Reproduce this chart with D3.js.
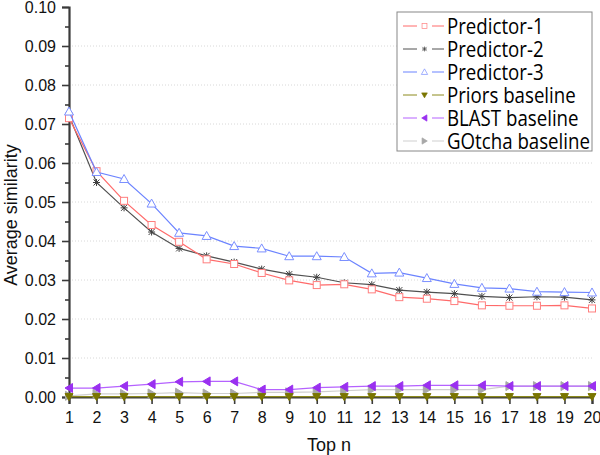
<!DOCTYPE html>
<html>
<head>
<meta charset="UTF-8">
<title>Average similarity by top n</title>
<style>
  body { margin: 0; padding: 0; background: #fff; }
  svg { display: block; }
</style>
</head>
<body>
<svg width="600" height="455"></svg>
<script src="https://d3js.org/d3.v7.min.js"></script>
<script>
    // values
    var topN = d3.range(1, 21);
    var predictor1 = [0.0715, 0.0579, 0.0503, 0.0441, 0.0398, 0.0353, 0.0341, 0.0318, 0.0299, 0.0287,
                      0.0289, 0.0276, 0.0256, 0.0252, 0.0246, 0.0235, 0.0234, 0.0234, 0.0235, 0.0227];
    var predictor2 = [0.0722, 0.0550, 0.0485, 0.0423, 0.0381, 0.0362, 0.0346, 0.0328, 0.0315, 0.0307,
                      0.0293, 0.0288, 0.0274, 0.0269, 0.0265, 0.0258, 0.0255, 0.0257, 0.0256, 0.0249];
    var predictor3 = [0.0732, 0.0577, 0.0559, 0.0496, 0.0421, 0.0413, 0.0387, 0.0381, 0.0361, 0.0361,
                      0.0359, 0.0317, 0.0319, 0.0305, 0.0290, 0.0280, 0.0278, 0.0270, 0.0269, 0.0268];
    var priors     = [0.0001, 0.0001, 0.0001, 0.0001, 0.0001, 0.0001, 0.0001, 0.0001, 0.0001, 0.0001,
                      0.0001, 0.0001, 0.0001, 0.0001, 0.0001, 0.0001, 0.0001, 0.0001, 0.0001, 0.0001];
    var blast      = [0.0023, 0.0023, 0.0028, 0.0033, 0.0039, 0.0040, 0.0040, 0.0019, 0.0019, 0.0024,
                      0.0026, 0.0028, 0.0028, 0.0030, 0.0030, 0.0030, 0.0028, 0.0028, 0.0028, 0.0028];
    var gotcha     = [0.0003, 0.0008, 0.0008, 0.0009, 0.0011, 0.0009, 0.0009, 0.0012, 0.0012, 0.0013,
                      0.0016, 0.0019, 0.0019, 0.0019, 0.0019, 0.0019, 0.0028, 0.0028, 0.0028, 0.0028];
    var yTicks = [0, 0.01, 0.02, 0.03, 0.04, 0.05, 0.06, 0.07, 0.08, 0.09, 0.10];

    var series = [
        {name: "Predictor-1",     values: predictor1, line: "#ff6a6a", mark: "#ff7f7f", shape: "square", fill: "none"},
        {name: "Predictor-2",     values: predictor2, line: "#505050", mark: "#404040", shape: "star",   fill: "none"},
        {name: "Predictor-3",     values: predictor3, line: "#6b83ff", mark: "#7b8fff", shape: "up",     fill: "none"},
        {name: "Priors baseline", values: priors,     line: "#8c8a1c", mark: "#7a7500", shape: "down",   fill: "#7a7500"},
        {name: "BLAST baseline",  values: blast,      line: "#b562ff", mark: "#9a30f0", shape: "left",   fill: "#9a30f0"},
        {name: "GOtcha baseline", values: gotcha,     line: "#cfcfcf", mark: "#a8a8a8", shape: "right",  fill: "#a8a8a8"}
    ];

    var svg = d3.select("svg"),
        margin = {top: 7, right: 8, bottom: 58, left: 69},
        width = +svg.attr("width") - margin.left - margin.right,
        height = +svg.attr("height") - margin.top - margin.bottom,
        g = svg.append("g").attr("transform", "translate(" + margin.left + "," + margin.top + ")");

    var x = d3.scaleLinear().domain([1, 20]).range([0, width]);
    var y = d3.scaleLinear().domain([0, 0.10]).range([height, 0]);

    // dotted grid
    g.append("g")
        .selectAll("line")
        .data(yTicks.slice(1, -1))
        .enter().append("line")
        .attr("x1", 0).attr("x2", width)
        .attr("y1", function (d) { return y(d); })
        .attr("y2", function (d) { return y(d); })
        .attr("stroke", "#d8d8d8")
        .attr("stroke-dasharray", "1,2");

    // y axis with minor ticks
    g.append("g")
        .call(d3.axisLeft(y).tickValues(yTicks).tickFormat(d3.format(".2f")).tickSize(7).tickPadding(6));
    g.append("g")
        .call(d3.axisLeft(y).tickValues(yTicks.slice(0, -1).map(function (d) { return d + 0.005; }))
            .tickSize(4).tickFormat(""))
        .select(".domain").remove();

    var xAxis = g.append("g")
        .attr("transform", "translate(0," + height + ")")
        .call(d3.axisBottom(x).tickValues(topN).tickFormat(d3.format("d")).tickSize(7).tickPadding(5));

    svg.selectAll(".domain").attr("stroke", "#3a3a3a").attr("stroke-width", 2.2);
    svg.selectAll(".tick line").attr("stroke", "#3a3a3a").attr("stroke-width", 1.6);
    svg.selectAll(".tick text")
        .attr("fill", "#111")
        .style("font-family", "'Liberation Sans', Arial, sans-serif")
        .style("font-size", "16px");
    xAxis.selectAll(".tick text").attr("dy", "0.85em");

    // marker symbols
    function marker(sel, shape, c, fill) {
        var s;
        if (shape === "square") {
            s = sel.append("rect").attr("x", -3.5).attr("y", -3.5).attr("width", 7).attr("height", 7);
        } else if (shape === "star") {
            s = sel.append("path").attr("d", "M-3,-3L3,3M-3,3L3,-3M0,-3.5L0,3.5M-3.5,0L3.5,0");
        } else {
            var pts = {
                up: "M0,-4.5L4.5,3.5L-4.5,3.5Z",
                down: "M0,4L-4,-3L4,-3Z",
                left: "M-4,0L3.5,-4.5L3.5,4.5Z",
                right: "M4,0L-3.5,-4.5L-3.5,4.5Z"
            };
            s = sel.append("path").attr("d", pts[shape]);
        }
        s.attr("stroke", c).attr("stroke-width", 1).attr("fill", fill === "none" ? "#fff" : fill);
        if (fill === "none" && shape === "star") s.attr("fill", "none");
        return s;
    }

    var line = d3.line()
        .x(function (d, i) { return x(topN[i]); })
        .y(function (d) { return y(d); });

    // draw baselines first so predictors sit on top
    var order = [5, 4, 3, 1, 0, 2];
    order.forEach(function (k) {
        var s = series[k];
        var sg = g.append("g");
        sg.append("path")
            .datum(s.values)
            .attr("d", line)
            .attr("fill", "none")
            .attr("stroke", s.line)
            .attr("stroke-width", 1.2);
        sg.selectAll("g.pt")
            .data(s.values)
            .enter().append("g")
            .attr("class", "pt")
            .attr("transform", function (d, i) { return "translate(" + x(topN[i]) + "," + y(d) + ")"; })
            .each(function () { marker(d3.select(this), s.shape, s.mark, s.fill); });
    });

    // axis titles
    svg.append("text")
        .attr("x", 307).attr("y", 451)
        .style("font-family", "'Liberation Sans', Arial, sans-serif")
        .style("font-size", "18px")
        .attr("fill", "#111")
        .text("Top n");
    svg.append("text")
        .attr("transform", "translate(17,215)rotate(-90)")
        .attr("text-anchor", "middle")
        .style("font-family", "'Liberation Sans', Arial, sans-serif")
        .style("font-size", "18px")
        .attr("fill", "#111")
        .text("Average similarity");

    // legend
    var legend = svg.append("g").attr("transform", "translate(397,12)");
    legend.append("rect")
        .attr("width", 195).attr("height", 139)
        .attr("fill", "#fff")
        .attr("stroke", "#888").attr("stroke-width", 1);
    var row = legend.selectAll("g.row")
        .data(series)
        .enter().append("g")
        .attr("class", "row")
        .attr("transform", function (d, i) { return "translate(0," + (14 + i * 23) + ")"; });
    row.append("line").attr("x1", 6).attr("x2", 20).attr("stroke", function (d) { return d.line; });
    row.append("line").attr("x1", 35).attr("x2", 47).attr("stroke", function (d) { return d.line; });
    row.each(function (d) {
        var m = d3.select(this).append("g").attr("transform", "translate(27.5,0) scale(0.7)");
        marker(m, d.shape, d.mark, d.fill);
    });
    // narrow, tall lettering like the original: squeeze Open Sans horizontally
    row.append("text")
        .attr("transform", "translate(50,0) scale(0.89,1)")
        .attr("dy", "0.36em")
        .style("font-family", "'Open Sans', 'Noto Sans', sans-serif")
        .style("font-size", "21px")
        .attr("fill", "#000")
        .text(function (d) { return d.name; });
</script>
</body>
</html>
